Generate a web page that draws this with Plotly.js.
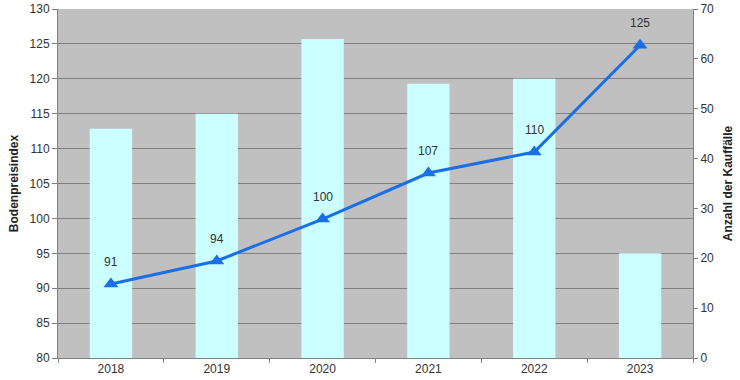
<!DOCTYPE html>
<html><head><meta charset="utf-8">
<script src="https://cdn.plot.ly/plotly-3.0.1.min.js"></script>
<style>html,body{margin:0;padding:0;background:#fff}</style>
</head><body>
<div id="chart" style="width:740px;height:380px"></div>
<script>
const years = ['2018','2019','2020','2021','2022','2023'];
const kauffaelle = [46, 49, 64, 55, 56, 21];
const bodenpreisindex = [90.6, 93.9, 99.9, 106.5, 109.5, 124.8];
const indexLabels = ['91','94','100','107','110','125'];

const font = 'Liberation Sans, Arial, sans-serif';
const data = [
  {type:'bar', x:years, y:kauffaelle, yaxis:'y', width:0.4,
   marker:{color:'#ccffff'}, hoverinfo:'none'},
  {type:'scatter', mode:'lines+markers', x:years, y:bodenpreisindex, yaxis:'y2',
   line:{color:'#1a6ee6', width:3}, marker:{symbol:'triangle-up', size:13, color:'#1a6ee6'}}
];
const annotations = years.map((yr,i)=>({
  x:i, y:bodenpreisindex[i], xref:'x', yref:'y2', text:indexLabels[i],
  showarrow:false, yshift:22, font:{family:font, size:12, color:'#333'}
}));
const layout = {
  width:740, height:380,
  margin:{l:58, r:47, t:9, b:22},
  paper_bgcolor:'#fff', plot_bgcolor:'#c0c0c0',
  showlegend:false,
  font:{family:font, size:12, color:'#333'},
  xaxis:{type:'category', range:[-0.5, 5.5], showline:true, linecolor:'#808080', linewidth:1,
    ticks:'outside', tickson:'boundaries', ticklen:4, tickcolor:'#808080',
    tickfont:{size:12, color:'#333'}, showgrid:false, tickangle:0},
  yaxis:{side:'right', range:[0,70], dtick:10, showgrid:false, zeroline:false,
    showline:true, linecolor:'#808080', ticks:'outside', ticklen:4, tickcolor:'#808080',
    tickfont:{size:12, color:'#333'},
    title:{text:'<b>Anzahl der Kauffälle</b>', font:{size:12, color:'#222'}, standoff:10}},
  yaxis2:{side:'left', overlaying:'y', range:[80,130], dtick:5, showgrid:true,
    gridcolor:'#808080', gridwidth:1, zeroline:false,
    showline:true, linecolor:'#808080', ticks:'outside', ticklen:5, tickcolor:'#808080',
    tickfont:{size:12, color:'#333'},
    title:{text:'<b>Bodenpreisindex</b>', font:{size:12, color:'#222'}, standoff:8}},
  annotations:annotations
};
Plotly.newPlot('chart', data, layout, {displayModeBar:false, staticPlot:true});
</script>
</body></html>
